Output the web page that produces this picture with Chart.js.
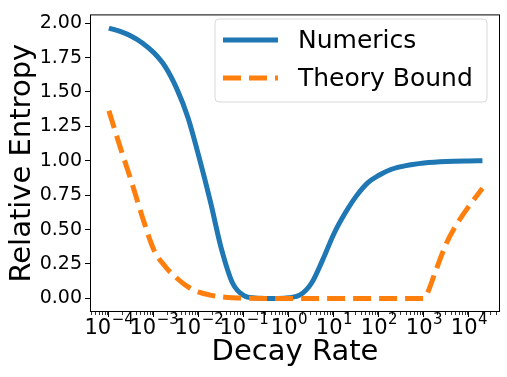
<!DOCTYPE html>
<html><head><meta charset="utf-8">
<script src="https://cdn.jsdelivr.net/npm/chart.js@4/dist/chart.umd.min.js"></script>
<style>html,body{margin:0;padding:0;background:#fff}#wrap{width:507px;height:377px}</style>
</head><body><div id="wrap"><canvas id="c" width="507" height="377"></canvas></div>
<script>
// log10 of decay rate for each sample, and the read-off values
const numericsExp = [-4,-3.75,-3.5,-3.25,-3,-2.75,-2.5,-2.25,-2,-1.75,-1.5,-1.25,-1,-0.75,-0.5,-0.25,0,0.25,0.5,0.75,1,1.25,1.5,1.75,2,2.25,2.5,2.75,3,3.5,4,4.3];
const numericsVal = [1.965,1.94,1.905,1.855,1.785,1.685,1.53,1.32,1.03,0.71,0.36,0.11,0.02,0.003,0,0,0.005,0.025,0.11,0.28,0.47,0.62,0.745,0.84,0.895,0.935,0.958,0.973,0.984,0.995,0.999,1.0];
const theoryExp = [-4,-3.75,-3.5,-3.25,-3,-2.75,-2.5,-2.25,-2,-1.75,-1.5,-1.25,-1,-0.5,0,1,2,3,3.05,3.1,3.25,3.5,3.75,4,4.3];
const theoryVal = [1.364,1.10,0.85,0.585,0.352,0.232,0.15,0.085,0.045,0.024,0.012,0.005,0.002,0,0,0,0,0,0.02,0.055,0.19,0.40,0.55,0.67,0.80];
const xTickExp = [-4,-3,-2,-1,0,1,2,3,4];
const yTicks = [0,0.25,0.5,0.75,1.0,1.25,1.5,1.75,2.0];
const seriesNames = ['Numerics','Theory Bound'];

const FONT = "'DejaVu Sans', sans-serif";

const framePlugin = {
  id:'frame',
  afterDraw(chart){
    const {ctx, chartArea:a, scales} = chart;
    const xs = scales.x;
    ctx.save();
    // minor ticks on x
    ctx.strokeStyle='#000'; ctx.lineWidth=0.8;
    for(let e=-5;e<=4;e++){
      for(let m=2;m<=9;m++){
        const v=m*Math.pow(10,e);
        if(v<xs.min||v>xs.max) continue;
        const px=Math.round(xs.getPixelForValue(v))+0.5;
        ctx.beginPath(); ctx.moveTo(px,a.bottom); ctx.lineTo(px,a.bottom+3); ctx.stroke();
      }
    }
    // x tick labels: 10 with superscript exponent
    ctx.fillStyle='#000'; ctx.textBaseline='alphabetic'; ctx.textAlign='left';
    xs.ticks.forEach(t=>{
      const e=Math.round(Math.log10(t.value));
      const base='10', ex=(e<0?'\u2212':'')+Math.abs(e);
      ctx.font='21px '+FONT; const wb=ctx.measureText(base).width;
      ctx.font='15px '+FONT; const we=ctx.measureText(ex).width;
      const cx=xs.getPixelForValue(t.value);
      const x0=cx-(wb+we)/2;
      ctx.font='21px '+FONT; ctx.fillText(base,x0,a.bottom+22);
      ctx.font='15px '+FONT; ctx.fillText(ex,x0+wb+0.5,a.bottom+12);
    });
    // frame
    ctx.lineWidth=1; ctx.strokeStyle='#000';
    ctx.strokeRect(a.left+0.5,a.top+0.5,a.right-a.left-1,a.bottom-a.top-1);
    // legend
    const lx=215, ly=19, lw=272, lh=83, r=4;
    ctx.beginPath();
    ctx.moveTo(lx+r,ly); ctx.lineTo(lx+lw-r,ly); ctx.quadraticCurveTo(lx+lw,ly,lx+lw,ly+r);
    ctx.lineTo(lx+lw,ly+lh-r); ctx.quadraticCurveTo(lx+lw,ly+lh,lx+lw-r,ly+lh);
    ctx.lineTo(lx+r,ly+lh); ctx.quadraticCurveTo(lx,ly+lh,lx,ly+lh-r);
    ctx.lineTo(lx,ly+r); ctx.quadraticCurveTo(lx,ly,lx+r,ly); ctx.closePath();
    ctx.fillStyle='rgba(255,255,255,0.8)'; ctx.fill();
    ctx.strokeStyle='#d9d9d9'; ctx.lineWidth=1; ctx.stroke();
    const rows=[40,78];
    chart.data.datasets.forEach((ds,i)=>{
      ctx.strokeStyle=ds.borderColor; ctx.lineWidth=ds.borderWidth;
      ctx.setLineDash(ds.borderDash||[]); ctx.lineCap='butt';
      ctx.beginPath(); ctx.moveTo(223,rows[i]); ctx.lineTo(278,rows[i]); ctx.stroke();
      ctx.setLineDash([]);
      ctx.fillStyle='#000'; ctx.font='25px '+FONT; ctx.textBaseline='middle'; ctx.textAlign='left';
      ctx.fillText(ds.label,298,rows[i]+1);
    });
    ctx.restore();
  }
};

new Chart(document.getElementById('c'),{
  type:'line',
  data:{datasets:[
    {label:seriesNames[0],data:numericsExp.map((e,i)=>({x:Math.pow(10,e),y:numericsVal[i]})),
     borderColor:'#1f77b4',borderWidth:5,pointRadius:0,cubicInterpolationMode:'monotone',fill:false,order:2},
    {label:seriesNames[1],data:theoryExp.map((e,i)=>({x:Math.pow(10,e),y:theoryVal[i]})),
     borderColor:'#ff7f0e',borderWidth:5,borderDash:[18,8],pointRadius:0,cubicInterpolationMode:'monotone',fill:false,order:1}
  ]},
  options:{
    responsive:false,animation:false,devicePixelRatio:1,
    layout:{padding:{top:6,right:7,left:0,bottom:0}},
    plugins:{legend:{display:false},tooltip:{enabled:false}},
    scales:{
      x:{type:'logarithmic',min:Math.pow(10,-4.42),max:Math.pow(10,4.69),
        afterBuildTicks:s=>{s.ticks=xTickExp.map(e=>({value:Math.pow(10,e)}));},
        afterFit:s=>{s.height=65;},
        ticks:{display:false,autoSkip:false,maxRotation:0},
        grid:{drawOnChartArea:false,drawTicks:true,tickLength:5,color:'#000'},
        border:{display:false},
        title:{display:true,text:'Decay Rate',color:'#000',font:{family:FONT,size:29},padding:{top:0,bottom:7}}
      },
      y:{type:'linear',min:-0.099,max:2.064,
        afterBuildTicks:s=>{s.ticks=yTicks.map(v=>({value:v}));},
        afterFit:s=>{s.width=90;},
        ticks:{autoSkip:false,padding:3,color:'#000',font:{family:FONT,size:19},callback:v=>Number(v).toFixed(2)},
        grid:{drawOnChartArea:false,drawTicks:true,tickLength:5,color:'#000'},
        border:{display:false},
        title:{display:true,text:'Relative Entropy',color:'#000',font:{family:FONT,size:29},padding:{top:5,bottom:0}}
      }
    }
  },
  plugins:[framePlugin]
});
</script></body></html>
